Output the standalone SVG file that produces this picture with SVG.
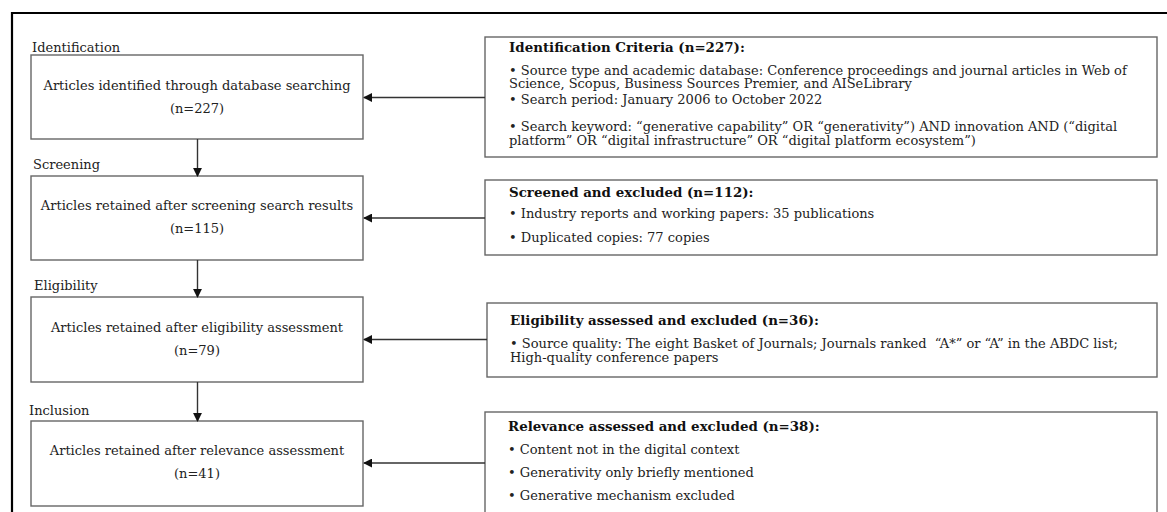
<svg xmlns="http://www.w3.org/2000/svg" width="1167" height="512" viewBox="0 0 1167 512">
<style>
.t{font-family:"DejaVu Serif","Liberation Serif",serif;font-size:13px;fill:#222}
.c{text-anchor:middle}
.b{font-weight:bold;font-size:13.4px;fill:#111}
.box{fill:#fff;stroke:#666;stroke-width:1.4}
.ln{stroke:#333;stroke-width:1.4;fill:none}
</style>
<defs>
<marker id="ah" viewBox="0 0 10 10" refX="9" refY="5" markerWidth="9" markerHeight="9" markerUnits="userSpaceOnUse" orient="auto">
<path d="M0,0 L10,5 L0,10 z" fill="#111"/>
</marker>
</defs>
<rect width="1167" height="512" fill="#fff"/>
<path d="M12,512 V13 H1167" fill="none" stroke="#000" stroke-width="2.2"/>

<g id="stage-labels">
<text class="t" x="32" y="52">Identification</text>
<text class="t" x="33" y="169">Screening</text>
<text class="t" x="34" y="290">Eligibility</text>
<text class="t" x="29" y="415">Inclusion</text>
</g>

<g id="n1">
<rect class="box" x="31" y="55" width="332" height="84"/>
<text class="t c" x="197" y="90">Articles identified through database searching</text>
<text class="t c" x="197" y="113">(n=227)</text>
</g>
<g id="n2">
<rect class="box" x="31" y="176" width="332" height="84"/>
<text class="t c" x="197" y="210">Articles retained after screening search results</text>
<text class="t c" x="197" y="233">(n=115)</text>
</g>
<g id="n3">
<rect class="box" x="31" y="297" width="332" height="85"/>
<text class="t c" x="197" y="332">Articles retained after eligibility assessment</text>
<text class="t c" x="197" y="355">(n=79)</text>
</g>
<g id="n4">
<rect class="box" x="31" y="421" width="332" height="85"/>
<text class="t c" x="197" y="455">Articles retained after relevance assessment</text>
<text class="t c" x="197" y="478">(n=41)</text>
</g>

<g id="r1">
<rect class="box" x="485" y="37" width="672" height="120"/>
<text class="t b" x="509" y="52">Identification Criteria (n=227):</text>
<text class="t" x="509" y="75">• Source type and academic database: Conference proceedings and journal articles in Web of</text>
<text class="t" x="509" y="88">Science, Scopus, Business Sources Premier, and AISeLibrary</text>
<text class="t" x="509" y="104">• Search period: January 2006 to October 2022</text>
<text class="t" x="509" y="131">• Search keyword: “generative capability” OR “generativity”) AND innovation AND (“digital</text>
<text class="t" x="509" y="145">platform” OR “digital infrastructure” OR “digital platform ecosystem”)</text>
</g>
<g id="r2">
<rect class="box" x="485" y="180" width="672" height="75"/>
<text class="t b" x="509" y="197">Screened and excluded (n=112):</text>
<text class="t" x="509" y="218">• Industry reports and working papers: 35 publications</text>
<text class="t" x="509" y="242">• Duplicated copies: 77 copies</text>
</g>
<g id="r3">
<rect class="box" x="487" y="303" width="670" height="74"/>
<text class="t b" x="510" y="325">Eligibility assessed and excluded (n=36):</text>
<text class="t" x="510" y="348">• Source quality: The eight Basket of Journals; Journals ranked&#160; “A*” or “A” in the ABDC list;</text>
<text class="t" x="510" y="362">High-quality conference papers</text>
</g>
<g id="r4">
<rect class="box" x="485" y="412" width="672" height="120"/>
<text class="t b" x="508" y="431">Relevance assessed and excluded (n=38):</text>
<text class="t" x="508" y="454">• Content not in the digital context</text>
<text class="t" x="508" y="477">• Generativity only briefly mentioned</text>
<text class="t" x="508" y="500">• Generative mechanism excluded</text>
</g>

<g id="connectors">
<line class="ln" x1="197.5" y1="139" x2="197.5" y2="176" marker-end="url(#ah)"/>
<line class="ln" x1="197.5" y1="260" x2="197.5" y2="297" marker-end="url(#ah)"/>
<line class="ln" x1="197.5" y1="382" x2="197.5" y2="421" marker-end="url(#ah)"/>
<line class="ln" x1="485" y1="97.5" x2="364" y2="97.5" marker-end="url(#ah)"/>
<line class="ln" x1="485" y1="218" x2="364" y2="218" marker-end="url(#ah)"/>
<line class="ln" x1="487" y1="339.5" x2="364" y2="339.5" marker-end="url(#ah)"/>
<line class="ln" x1="485" y1="463" x2="364" y2="463" marker-end="url(#ah)"/>
</g>
</svg>
